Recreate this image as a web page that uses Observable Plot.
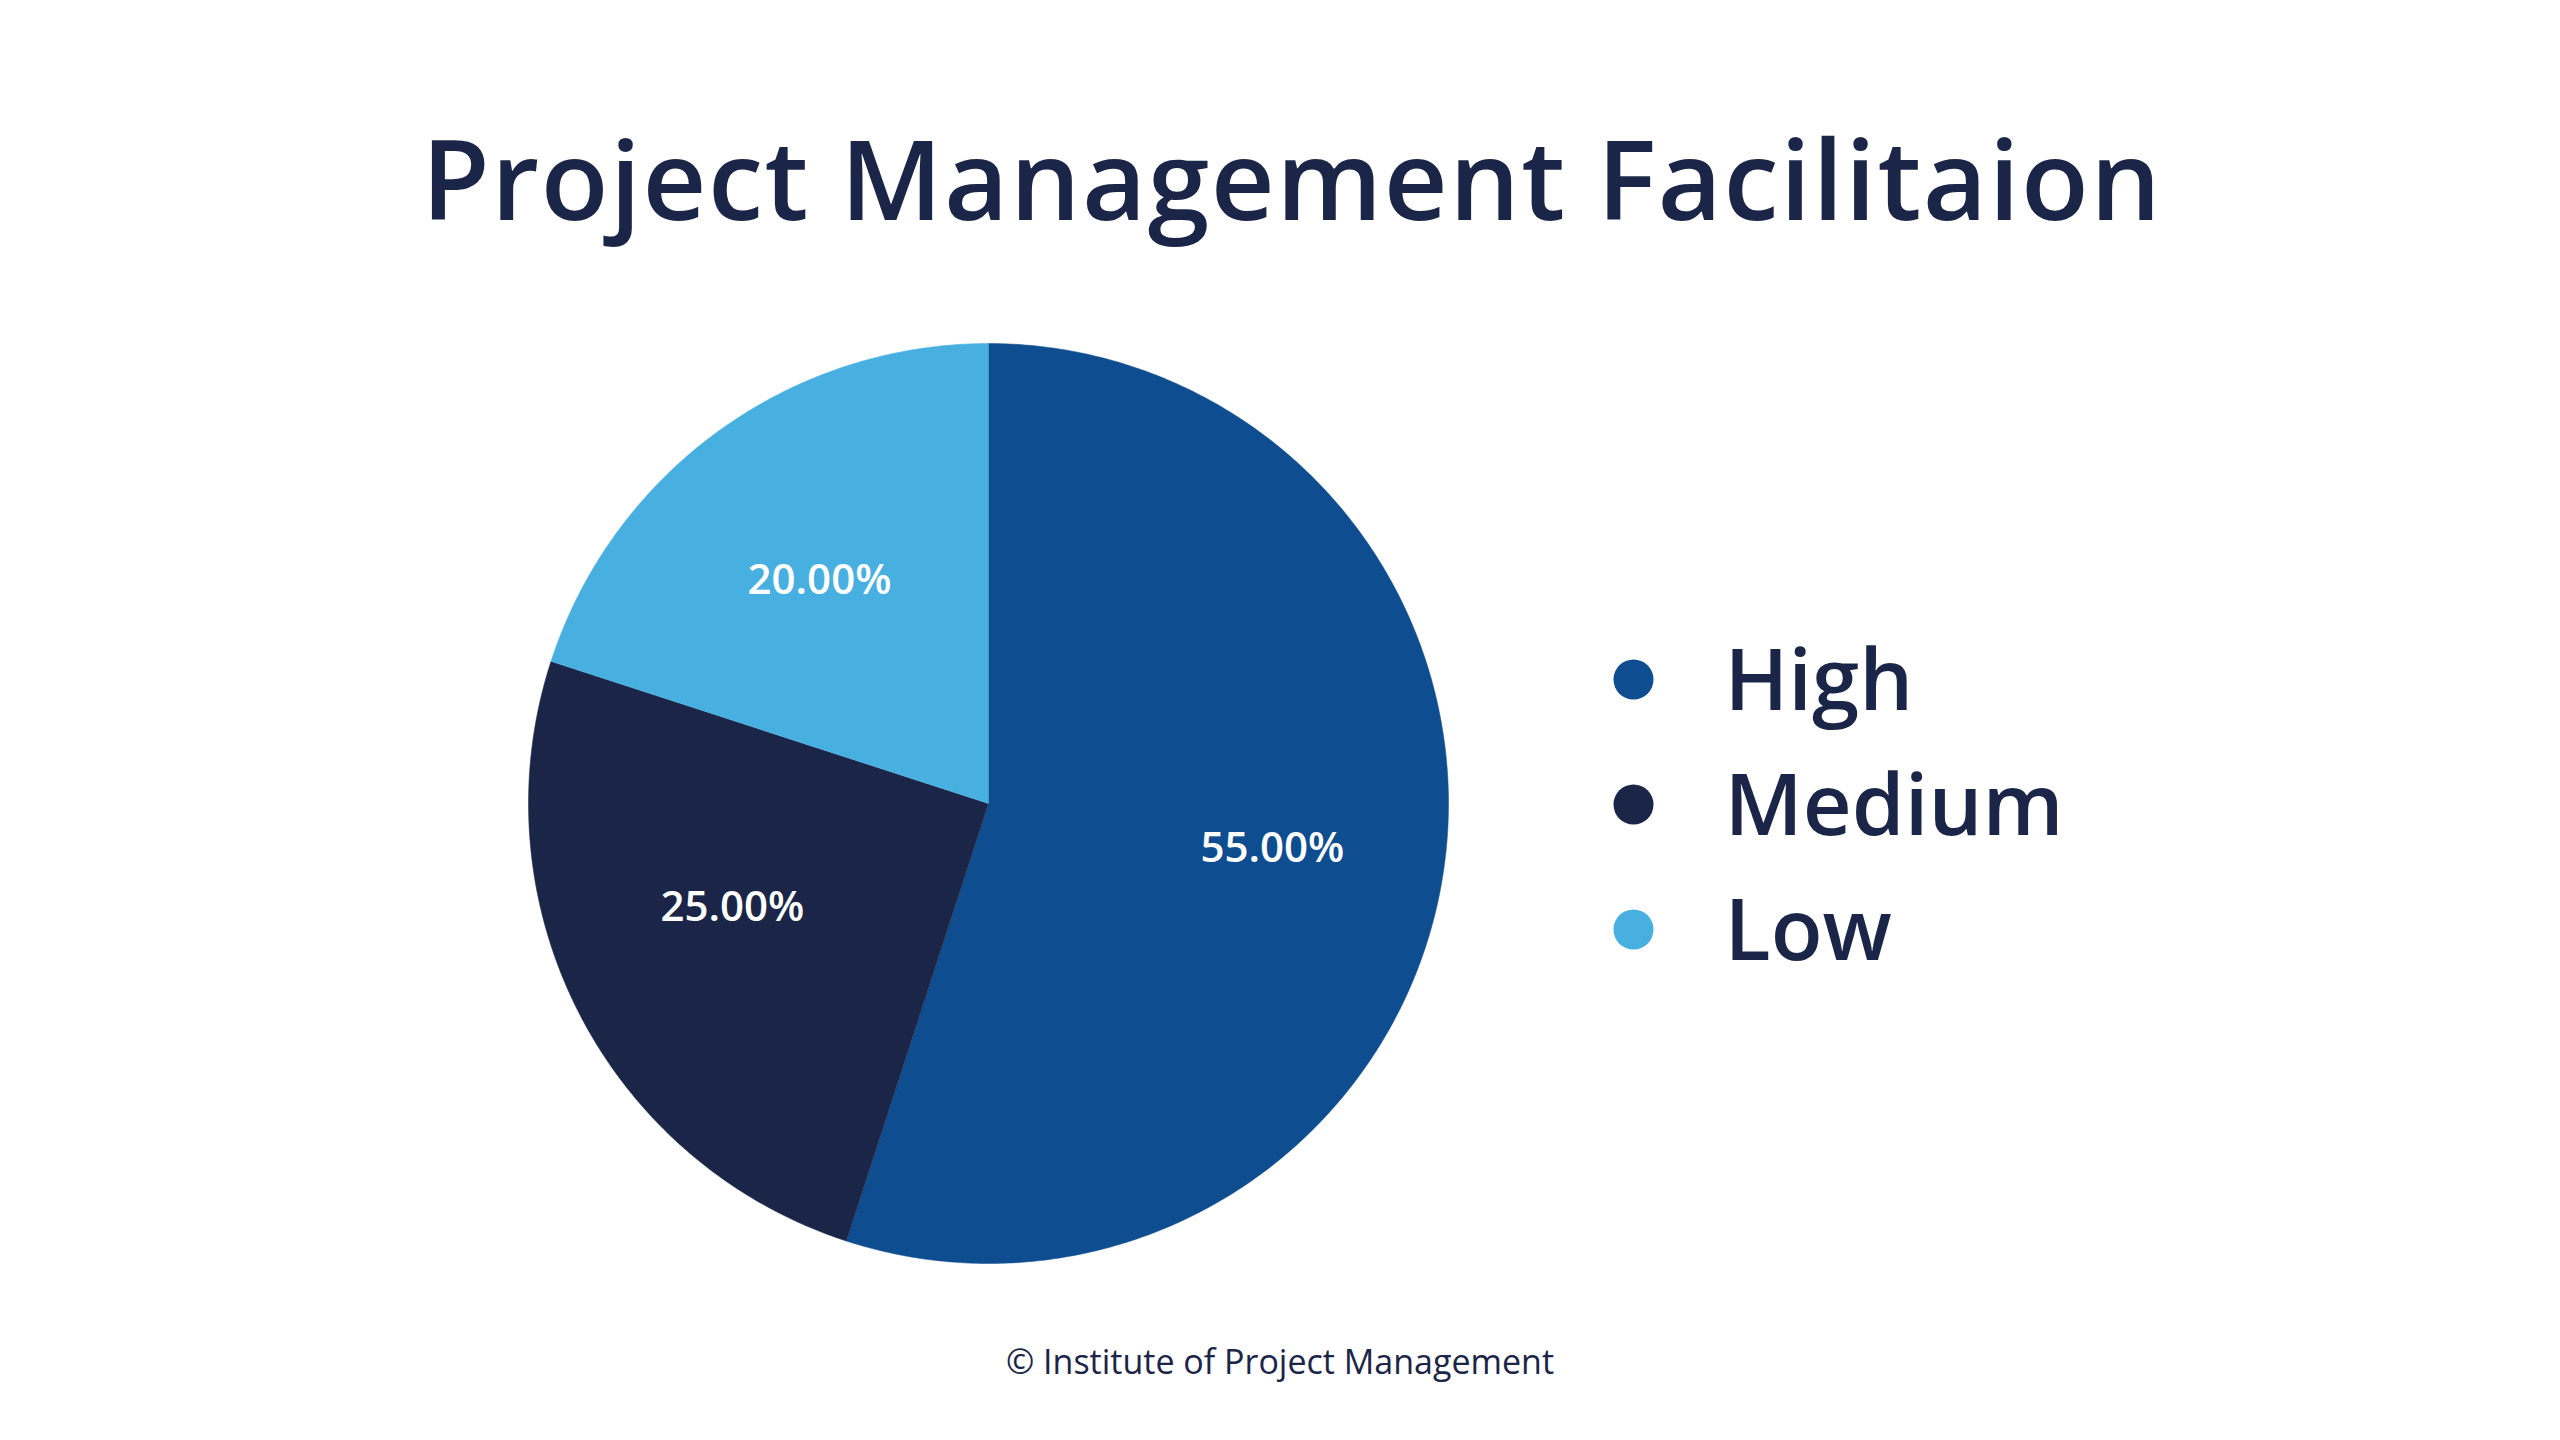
<!DOCTYPE html>
<html>
<head>
<meta charset="utf-8">
<script src="https://cdn.jsdelivr.net/npm/d3@7"></script>
<script src="https://cdn.jsdelivr.net/npm/@observablehq/plot@0.6"></script>
<style>
  html, body { margin: 0; padding: 0; background: #ffffff; }
  body { width: 2560px; height: 1440px; position: relative; overflow: hidden; font-family: "Open Sans", sans-serif; }
  #title { position: absolute; left: 12px; width: 2560px; top: 111px; text-align: center; font-size: 111px; font-weight: 600; color: #1b2547; line-height: 1.2; white-space: nowrap; letter-spacing: 1.5px; }
  #chart { position: absolute; left: 0; top: 300px; }
  #caption { position: absolute; left: 0; width: 2560px; top: 1341px; text-align: center; font-size: 34px; font-weight: 500; color: #1b2547; line-height: 1.2; }
</style>
</head>
<body>
<div id="title">Project Management Facilitaion</div>
<div id="chart"></div>
<div id="caption">© Institute of Project Management</div>
<script>
// ---- data ----
const categories = ["High", "Medium", "Low"];
const shares = [55, 25, 20];
const labels = ["55.00%", "25.00%", "20.00%"];
const colors = ["#0e4d8f", "#1a2547", "#48afe1"];

// ---- layout ----
const W = 2560, H = 1020;
const R = 460, CX = 988, CY = 503;
const legendX = 1633, legendTextX = 1724, legendY0 = 379, legendStep = 125;
const labelNudgeY = [0, -26, 10];

const pie = d3.pie().sort(null).value(d => d.value).startAngle(0).endAngle(2 * Math.PI);
const arcs = pie(categories.map((c, i) => ({ key: c, value: shares[i], label: labels[i], color: colors[i] })));

// polygon points of each slice in unit-radius coordinates (y down)
const slicePts = arcs.map(a => {
  const pts = [{ key: a.data.key, x: 0, y: 0 }];
  const n = Math.max(2, Math.ceil((a.endAngle - a.startAngle) / (Math.PI / 360)));
  for (let k = 0; k <= n; k++) {
    const t = a.startAngle + (a.endAngle - a.startAngle) * k / n;
    pts.push({ key: a.data.key, x: Math.sin(t), y: -Math.cos(t) });
  }
  return pts;
});

const labelPts = arcs.map((a, i) => {
  const t = (a.startAngle + a.endAngle) / 2;
  return { label: a.data.label, x: 0.625 * Math.sin(t), y: -0.625 * Math.cos(t) + labelNudgeY[i] / R };
});

const legendPts = categories.map((c, i) => ({
  key: c,
  x: (legendX - CX) / R,
  tx: (legendTextX - CX) / R,
  y: (legendY0 + i * legendStep - CY) / R
}));

const plot = Plot.plot({
  width: W,
  height: H,
  margin: 0,
  x: { domain: [-CX / R, (W - CX) / R], range: [0, W], axis: null },
  y: { domain: [-CY / R, (H - CY) / R], range: [0, H], axis: null },
  color: { domain: categories, range: colors },
  style: { background: "transparent", fontFamily: "Open Sans, sans-serif" },
  marks: [
    ...slicePts.map((pts, i) => Plot.line(pts, { x: "x", y: "y", fill: colors[i], stroke: colors[i], strokeWidth: 0.5 })),
    Plot.text(labelPts, { x: "x", y: "y", text: "label", fill: "#ffffff", fontSize: 42, fontWeight: 600 }),
    Plot.dot(legendPts, { x: "x", y: "y", r: 20, fill: "key", stroke: null }),
    Plot.text(legendPts, { x: "tx", y: "y", text: "key", fill: "#1b2547", fontSize: 85, fontWeight: 600, textAnchor: "start", dy: 3 })
  ]
});
document.getElementById("chart").appendChild(plot);
</script>
</body>
</html>
